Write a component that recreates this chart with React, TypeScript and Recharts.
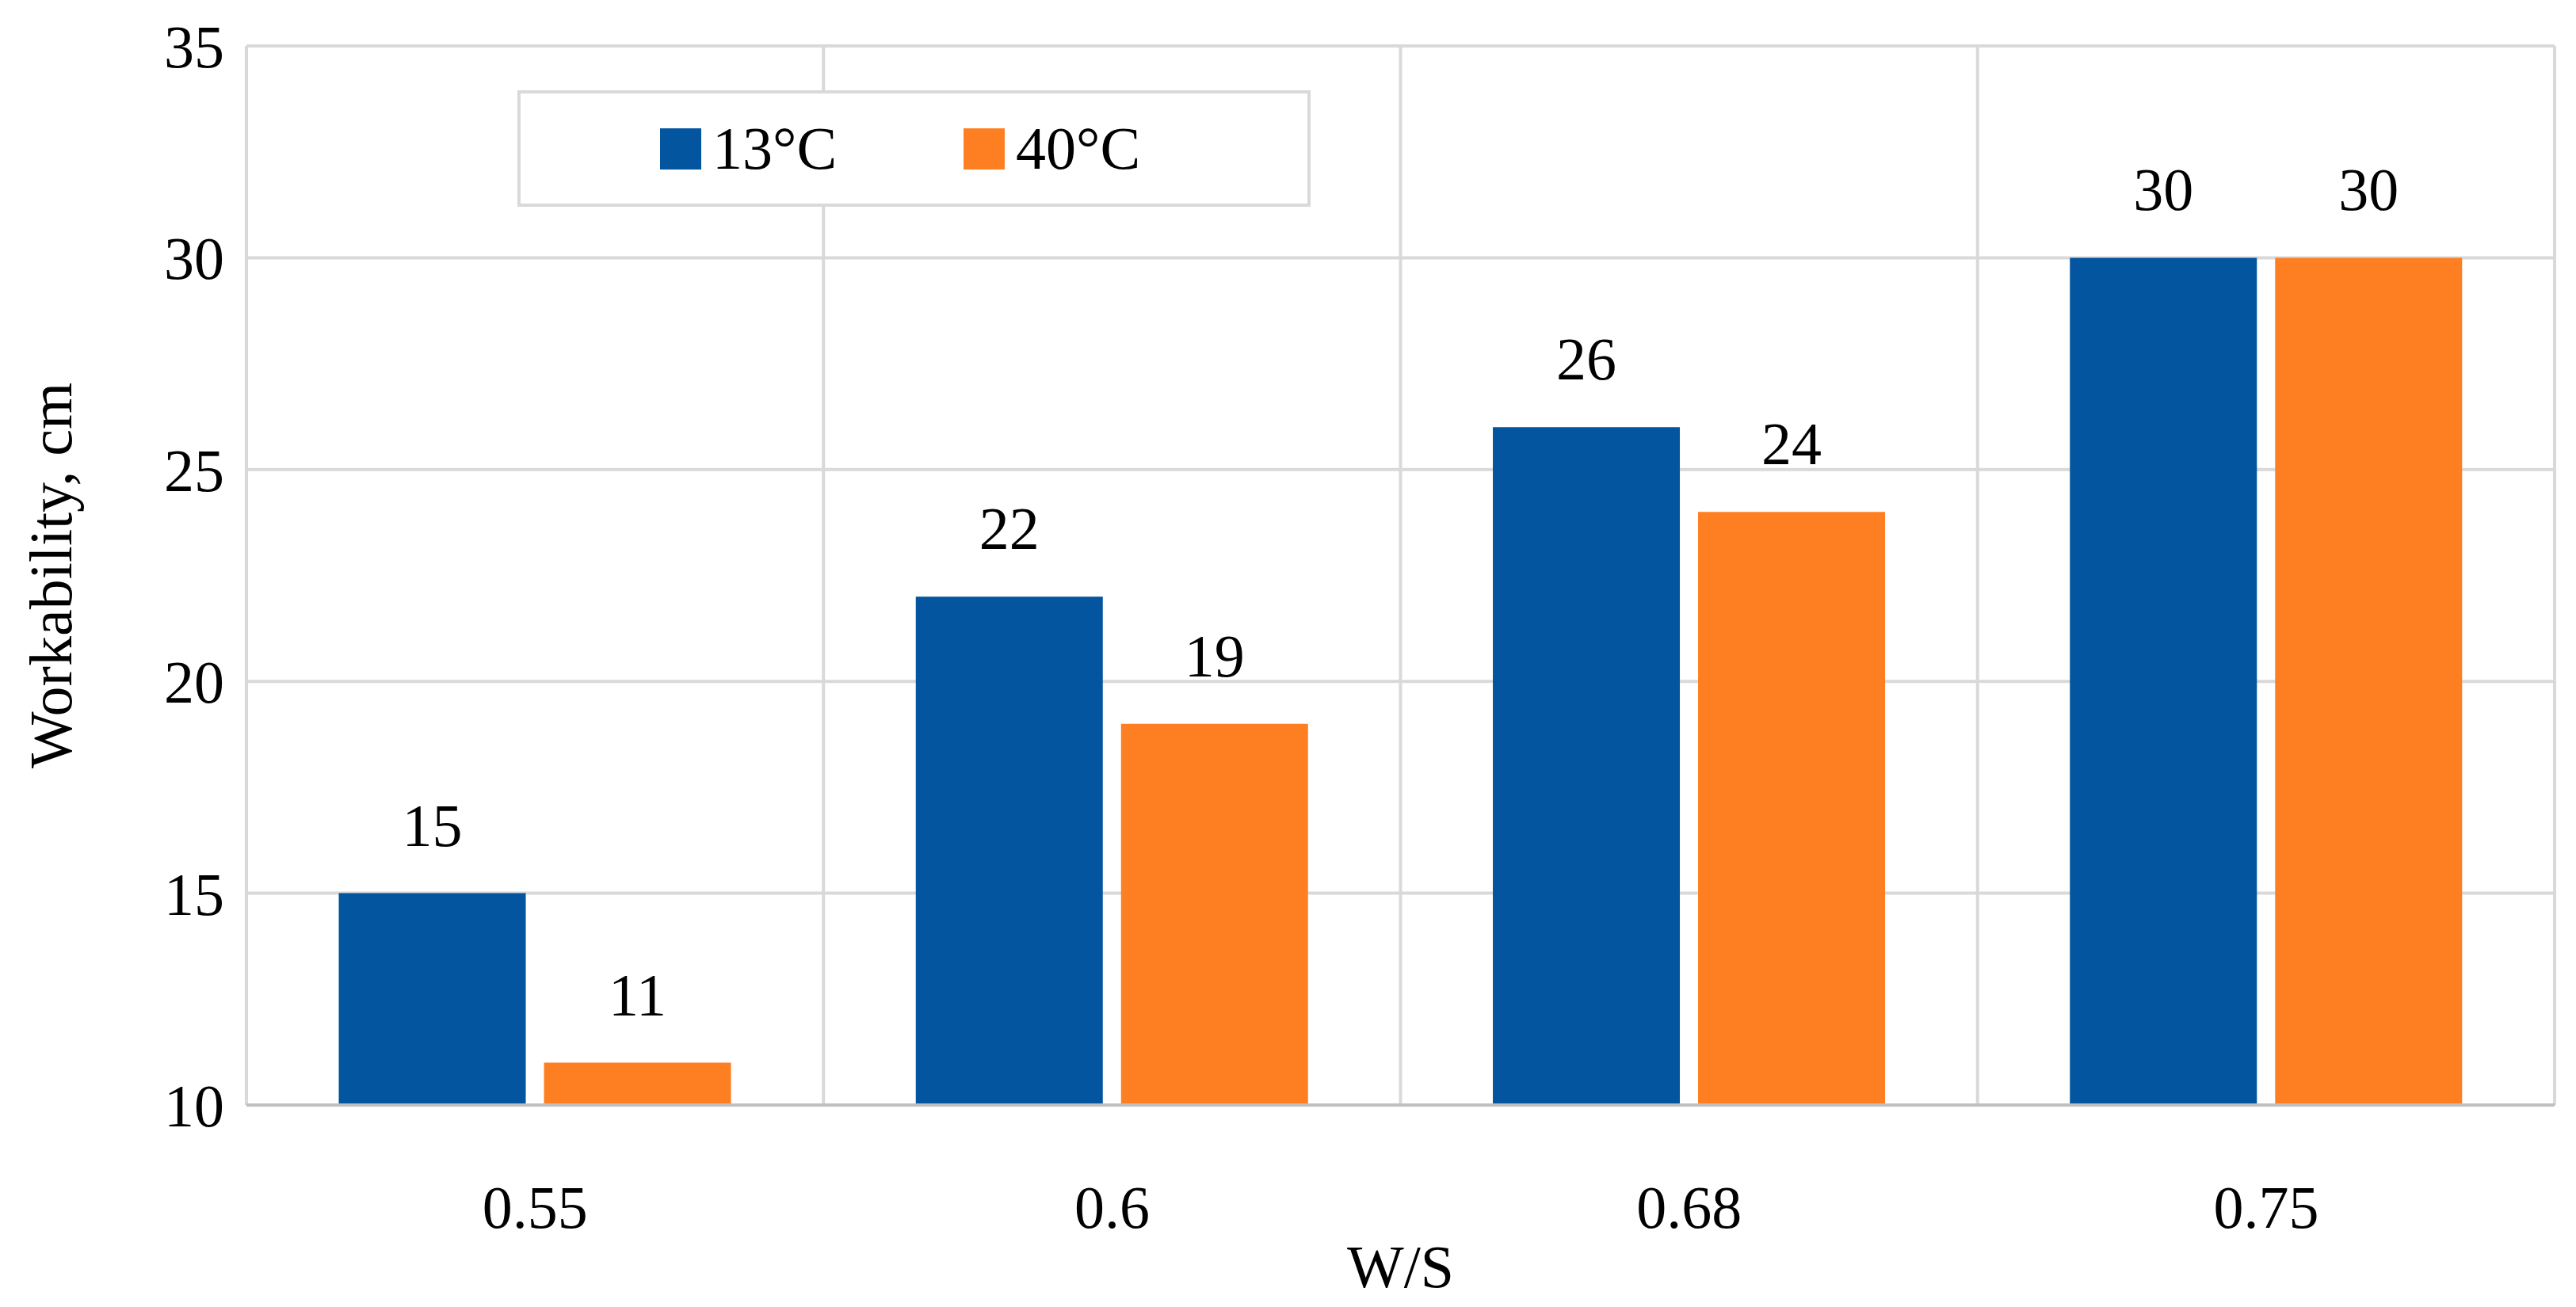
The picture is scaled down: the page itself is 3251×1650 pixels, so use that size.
import { BarChart, Bar, XAxis, YAxis, CartesianGrid, LabelList } from 'recharts';

const categories = ['0.55', '0.6', '0.68', '0.75'];
const series13 = [15, 22, 26, 30];
const series40 = [11, 19, 24, 30];
const yTicks = [10, 15, 20, 25, 30, 35];

const data = categories.map((name, i) => ({ name, t13: series13[i], t40: series40[i] }));

const FONT = '"Liberation Serif", "DejaVu Serif", serif';
const BLUE = '#02559e';
const ORANGE = '#fd7f22';
const FS = 76;

// vertical grid lines sit on category boundaries
const boundaryLines = ({ offset }: any) =>
  categories.concat(['']).map((_, i) => offset.left + (i * offset.width) / categories.length);

export default function App() {
  return (
    <div style={{ position: 'relative', width: 3235, height: 1642, fontFamily: FONT }}>
      <BarChart
        width={3235}
        height={1642}
        data={data}
        margin={{ top: 50, right: 19, left: 10, bottom: 25 }}
        barCategoryGap="16%"
        barGap={23}
      >
        <CartesianGrid stroke="#d9d9d9" strokeWidth={4} verticalCoordinatesGenerator={boundaryLines} />
        <XAxis
          dataKey="name"
          height={230}
          tickLine={false}
          axisLine={{ stroke: '#bfbfbf', strokeWidth: 4 }}
          tick={{ fontSize: FS, fill: '#000', fontFamily: FONT }}
          tickMargin={95}
          label={{ value: 'W/S', position: 'insideBottom', offset: 0, fontSize: FS, fill: '#000', fontFamily: FONT }}
        />
        <YAxis
          width={293}
          domain={[10, 35]}
          ticks={yTicks}
          tickLine={false}
          axisLine={false}
          tickMargin={22}
          tick={{ fontSize: FS, fill: '#000', fontFamily: FONT }}
          label={{ value: 'Workability, cm', angle: -90, position: 'insideLeft', offset: 45, fontSize: FS, fill: '#000', fontFamily: FONT, style: { textAnchor: 'middle' } }}
        />
        <Bar dataKey="t13" fill={BLUE} isAnimationActive={false}>
          <LabelList dataKey="t13" position="top" offset={60} style={{ fontSize: FS, fill: '#000', fontFamily: FONT }} />
        </Bar>
        <Bar dataKey="t40" fill={ORANGE} isAnimationActive={false}>
          <LabelList dataKey="t40" position="top" offset={60} style={{ fontSize: FS, fill: '#000', fontFamily: FONT }} />
        </Bar>
      </BarChart>
      <div
        style={{
          position: 'absolute', left: 645, top: 106, width: 1001, height: 147,
          background: '#fff', border: '4px solid #d9d9d9', boxSizing: 'border-box',
          display: 'flex', alignItems: 'center', fontSize: FS,
        }}
      >
        <div style={{ width: 52, height: 52, background: BLUE, marginLeft: 176 }} />
        <span style={{ marginLeft: 14 }}>13°C</span>
        <div style={{ width: 52, height: 52, background: ORANGE, marginLeft: 160 }} />
        <span style={{ marginLeft: 14 }}>40°C</span>
      </div>
    </div>
  );
}
